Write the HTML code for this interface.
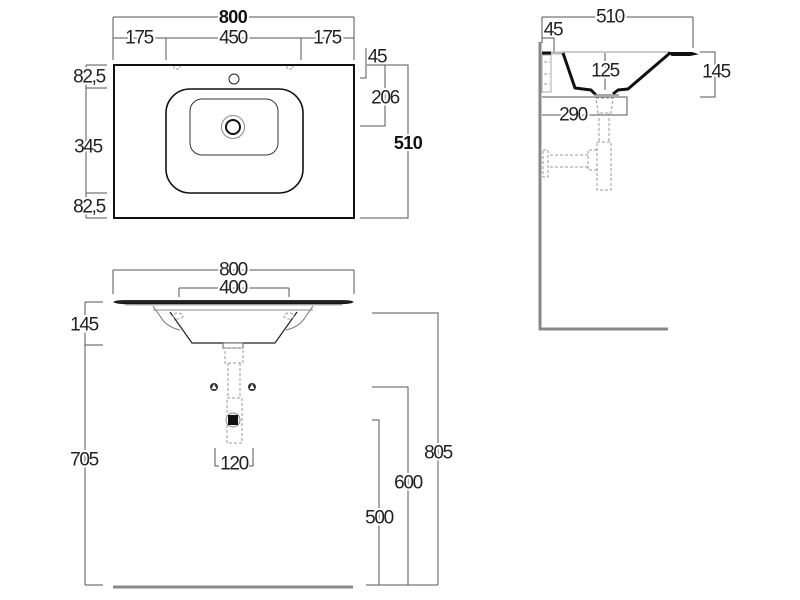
<!DOCTYPE html>
<html><head><meta charset="utf-8"><style>
html,body{margin:0;padding:0;background:#fff;width:800px;height:600px;overflow:hidden}
svg{display:block}
text{font-family:"Liberation Sans",sans-serif;font-size:19px;fill:#222;text-anchor:middle;dominant-baseline:central;stroke:#fff;stroke-width:4px;paint-order:stroke;letter-spacing:-1.3px}
.b{font-weight:bold;font-size:18px;fill:#111;letter-spacing:-0.6px}
.d{fill:none;stroke:#555;stroke-width:1}
.g{fill:none;stroke:#888;stroke-width:3}
.ds{fill:none;stroke:#999;stroke-width:1;stroke-dasharray:3 2}
</style></head><body>
<svg width="800" height="600" viewBox="0 0 800 600" xmlns="http://www.w3.org/2000/svg">
<!-- ===== TOP VIEW ===== -->
<path class="d" d="M113,17H354M113,17V60M354,17V60M113,38H354M166,38V60M301,38V60"/>
<text x="233" y="17" class="b">800</text>
<text x="139" y="38">175</text>
<text x="233" y="38">450</text>
<text x="327" y="38">175</text>
<path class="d" d="M86,65V218M86,65H107M86,88H107M86,193H107M86,218H107"/>
<text x="89" y="77">82,5</text>
<text x="88" y="147">345</text>
<text x="89" y="207">82,5</text>
<path class="d" d="M366,48V78H360M367,65H408V218H360M385,65V126H360"/>
<text x="377" y="57" style="stroke:none">45</text>
<text x="385" y="98">206</text>
<text x="408" y="143" class="b">510</text>
<rect x="114" y="65" width="240" height="153" fill="none" stroke="#111" stroke-width="2"/>
<rect x="166" y="89" width="137" height="104" rx="24" fill="none" stroke="#111" stroke-width="1.6"/>
<rect x="190" y="99" width="88" height="56" rx="12" fill="none" stroke="#333" stroke-width="1"/>
<circle cx="233" cy="127" r="11.5" fill="none" stroke="#888" stroke-width="1"/>
<circle cx="233" cy="127" r="7" fill="none" stroke="#111" stroke-width="2"/>
<circle cx="234" cy="79" r="5" fill="none" stroke="#222" stroke-width="1"/>
<path class="ds" d="M174,66v3h6v-3M287,66v3h6v-3"/>

<!-- ===== SIDE VIEW ===== -->
<path class="d" d="M542,17H693M542,17V43M693,17V48M542,38H554V52"/>
<text x="610" y="17">510</text>
<text x="553" y="30" style="stroke:none">45</text>
<path class="g" d="M540,42V329H668"/>
<rect x="542" y="55" width="9" height="37" fill="none" stroke="#aaa" stroke-width="1"/>
<path class="ds" d="M544,62h6M544,74h6M544,84h6"/>
<path d="M542,53H551" stroke="#111" stroke-width="3"/>
<path d="M551,53H562" stroke="#bbb" stroke-width="3"/>
<path d="M562,52H670" stroke="#999" stroke-width="1"/>
<path d="M563,53L575,88L591,90L596,95M670,53L628,89L618,90L613,94" fill="none" stroke="#111" stroke-width="3" stroke-linejoin="round"/>
<path d="M670,53H692L695,54L690,55H672Z" fill="#111" stroke="#111" stroke-width="2"/>
<path d="M594,95H619" stroke="#888" stroke-width="1.5"/>
<path class="d" d="M605,53V90"/>
<text x="605" y="71">125</text>
<path class="d" d="M542,97H627V115H542"/>
<text x="573" y="115">290</text>
<path class="d" d="M700,52H715V97H700"/>
<text x="716" y="72">145</text>
<path class="ds" d="M596,98H613L611,113H598ZM599,113V142M609,113V142M597,142H611V190H597ZM597,150H588V170H597M588,155H548M588,167H548M543,150H548V177H543Z"/>

<!-- ===== FRONT VIEW ===== -->
<path class="d" d="M113,270H354M113,270V294M354,270V294M179,288H289M179,288V297M289,288V297"/>
<text x="233" y="270">800</text>
<text x="233" y="288">400</text>
<path d="M114,302Q116,300.5 124,300.5H343Q351,300.5 353,302Q350,303.8 338,303.8H129Q117,303.8 114,302Z" fill="#222" stroke="#111" stroke-width="0.8"/>
<path d="M125,305H342" stroke="#999" stroke-width="0.8"/>
<path d="M153,306L160,316Q166,327 180,330M313,306L306,316Q300,327 286,330" fill="none" stroke="#777" stroke-width="1"/>
<path d="M153,310H313" stroke="#888" stroke-width="1"/>
<path d="M170,312L192,343H275L297,312" fill="none" stroke="#222" stroke-width="1.2"/>
<ellipse cx="178" cy="316" rx="5" ry="3" class="ds"/>
<ellipse cx="289" cy="316" rx="5" ry="3" class="ds"/>
<rect x="223" y="343" width="20" height="5" fill="#fff" stroke="#666" stroke-width="1"/>
<path class="ds" d="M225,348H243V363H225ZM228,363V398M240,363V398M227,398H242V443H227Z"/>
<circle cx="233" cy="420" r="7" fill="#fff" stroke="#888" stroke-width="1"/>
<rect x="228" y="415" width="10" height="10" fill="#111"/>
<circle cx="214" cy="387" r="4" fill="#333"/>
<path d="M214,384L211.5,389H216.5Z" fill="#fff"/>
<circle cx="252" cy="387" r="4" fill="#333"/>
<path d="M252,384L249.5,389H254.5Z" fill="#fff"/>
<path class="d" d="M215,448V466H219M253,448V466H249"/>
<text x="234" y="464" style="stroke:none">120</text>
<path class="d" d="M85,302V585M85,302H103M85,345H103M85,585H103"/>
<text x="84" y="325">145</text>
<text x="84" y="460">705</text>
<path class="g" d="M113,587H353"/>
<path class="d" d="M372,313H438V585M372,387H408V585M372,420H379V585M366,585H438"/>
<text x="438" y="453">805</text>
<text x="408" y="483">600</text>
<text x="379" y="518">500</text>
</svg>
</body></html>
